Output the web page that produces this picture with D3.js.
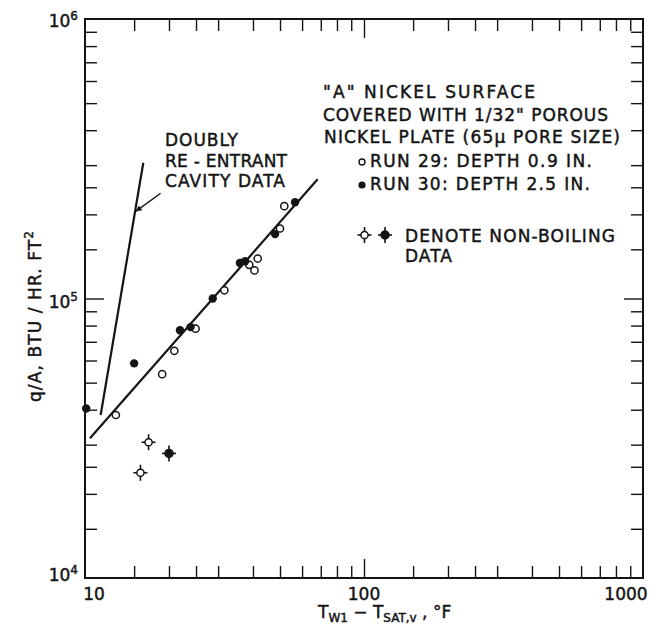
<!DOCTYPE html>
<html><head><meta charset="utf-8">
<script src="https://cdn.jsdelivr.net/npm/d3@7"></script>
<style>
body{margin:0;background:#fff}
svg{display:block}
text{font-family:"DejaVu Sans",sans-serif;fill:#141414;stroke:#141414;stroke-width:0.45px}
</style>
</head><body>
<svg id="chart" width="656" height="630"></svg>
<script>
// ---- data ----
const xDomain = [10, 1000];
const yDomain = [1e4, 1e6];
const xMajorTicks = [10, 100, 1000];
const yMajorTicks = [1e4, 1e5, 1e6];
const xTickLabels = ["10", "100", "1000"];
const yTickExponents = ["4", "5", "6"];
const minorMultipliers = [1.5, 2, 2.5, 3, 4, 5, 6, 7, 8, 9];

// Run 29 (open circles), depth 0.9 in.
const run29X = [12.9, 18.9, 20.9, 24.9, 31.6, 38.8, 40.5, 41.6, 50.0, 51.8];
const run29Y = [38300, 53600, 65000, 78000, 107000, 132000, 126000, 139000, 178000, 214000];
// Run 30 (filled circles), depth 2.5 in.
const run30X = [10.1, 15.0, 21.9, 23.9, 28.7, 35.9, 37.5, 48.0, 56.6];
const run30Y = [40400, 58600, 77000, 79000, 100000, 134000, 136000, 170000, 221000];
// non-boiling data
const nonBoilOpenX = [16.9, 15.8];
const nonBoilOpenY = [30600, 23800];
const nonBoilFilledX = [20.0];
const nonBoilFilledY = [27900];
// correlation line through porous-plate data
const fitLineX = [10.42, 68.2];
const fitLineY = [31600, 267000];
// doubly re-entrant cavity data line
const cavityLineX = [11.38, 16.18];
const cavityLineY = [38300, 306000];
// arrow pointing to cavity line (tail, head)
const arrowX = [18.67, 15.2];
const arrowY = [238000, 205000];

const xTitleParts = [["T",""],["W1","sub"],[" \u2212 T",""],["SAT,v","sub"],[" , \u00B0F",""]];
const yTitleMain = "q/A, BTU / HR. FT";
const yTitleSup = "2";
const noteLines = ['"A" NICKEL SURFACE', 'COVERED WITH 1/32" POROUS', 'NICKEL PLATE (65\u03BC PORE SIZE)'];
const legendLabels = ["RUN 29: DEPTH 0.9 IN.", "RUN 30: DEPTH 2.5 IN."];
const nonBoilLabel = ["DENOTE NON-BOILING", "DATA"];
const cavityLabel = ["DOUBLY", "RE - ENTRANT", "CAVITY DATA"];

// ---- layout ----
const L = 85, R = 643, T = 19, B = 578;
const svg = d3.select("#chart");
const x = d3.scaleLog().domain(xDomain).range([L, R]);
const y = d3.scaleLog().domain(yDomain).range([B, T]);
const ink = "#141414";

function minorList(majors){
  const out = [];
  for (let i = 0; i < majors.length - 1; i++) minorMultipliers.forEach(m => out.push(majors[i]*m));
  return out;
}
const xTickVals = minorList(xMajorTicks).concat([xMajorTicks[1]]);
const yTickVals = minorList(yMajorTicks).concat([yMajorTicks[1]]);

function styleAxis(g, majorVal, longLen, attr){
  g.select(".domain").remove();
  g.selectAll("text").remove();
  g.selectAll(".tick line").attr("stroke", ink).attr("stroke-width", 1.4);
  g.selectAll(".tick").filter(d => Math.abs(d - majorVal) < 1e-6)
    .select("line").attr(attr, longLen);
}
svg.append("g").attr("transform", `translate(0,${B})`)
  .call(d3.axisBottom(x).tickValues(xTickVals).tickSizeInner(-12).tickSizeOuter(0))
  .call(g => styleAxis(g, 100, -19, "y2"));
svg.append("g").attr("transform", `translate(0,${T})`)
  .call(d3.axisTop(x).tickValues(xTickVals).tickSizeInner(-12).tickSizeOuter(0))
  .call(g => styleAxis(g, 100, 19, "y2"));
svg.append("g").attr("transform", `translate(${L},0)`)
  .call(d3.axisLeft(y).tickValues(yTickVals).tickSizeInner(-12).tickSizeOuter(0))
  .call(g => styleAxis(g, 1e5, 19, "x2"));
svg.append("g").attr("transform", `translate(${R},0)`)
  .call(d3.axisRight(y).tickValues(yTickVals).tickSizeInner(-12).tickSizeOuter(0))
  .call(g => styleAxis(g, 1e5, -19, "x2"));

// frame
svg.append("rect").attr("x", L).attr("y", T).attr("width", R - L).attr("height", B - T)
  .attr("fill", "none").attr("stroke", ink).attr("stroke-width", 2);

// x tick labels
const xLabelShift = [9, 0, -17];
svg.selectAll(".xlab").data(xMajorTicks).join("text")
  .attr("x", (d,i) => x(d) + xLabelShift[i]).attr("y", 600)
  .attr("text-anchor", "middle").attr("font-size", 17).text((d,i) => xTickLabels[i]);

// y tick labels (10 with superscript)
const yLabelDy = [3, 9, 8];
yMajorTicks.forEach((v,i) => {
  const t = svg.append("text").attr("x", 78).attr("y", y(v) + yLabelDy[i])
    .attr("text-anchor", "end").attr("font-size", 17);
  t.append("tspan").text("10");
  t.append("tspan").attr("font-size", 12).attr("dy", -7).text(yTickExponents[i]);
});

// axis titles
const xt = svg.append("text").attr("x", 318).attr("y", 618).attr("font-size", 17);
let prevSub = false;
xTitleParts.forEach(([s, kind]) => {
  const sp = xt.append("tspan").text(s);
  if (kind === "sub") { sp.attr("font-size", 12).attr("dy", 4); prevSub = true; }
  else { if (prevSub) sp.attr("dy", -4); prevSub = false; }
});
const yt = svg.append("text").attr("transform", "translate(41,316) rotate(-90)")
  .attr("text-anchor", "middle").attr("font-size", 17).attr("letter-spacing", 1.1);
yt.append("tspan").text(yTitleMain);
yt.append("tspan").attr("font-size", 12).attr("dy", -8).text(yTitleSup);

// lines
const line = d3.line().x(d => x(d[0])).y(d => y(d[1]));
svg.append("path").datum(fitLineX.map((v,i) => [v, fitLineY[i]]))
  .attr("d", line).attr("fill", "none").attr("stroke", ink).attr("stroke-width", 2.2);
svg.append("path").datum(cavityLineX.map((v,i) => [v, cavityLineY[i]]))
  .attr("d", line).attr("fill", "none").attr("stroke", ink).attr("stroke-width", 2.2);

// arrow
svg.append("defs").append("marker").attr("id", "ah").attr("viewBox", "0 0 10 10")
  .attr("refX", 10).attr("refY", 5).attr("markerWidth", 8).attr("markerHeight", 6)
  .attr("markerUnits", "userSpaceOnUse").attr("orient", "auto")
  .append("path").attr("d", "M0,0 L10,5 L0,10 Z").attr("fill", ink);
svg.append("line").attr("x1", x(arrowX[0])).attr("y1", y(arrowY[0]))
  .attr("x2", x(arrowX[1])).attr("y2", y(arrowY[1]))
  .attr("stroke", ink).attr("stroke-width", 1.4).attr("marker-end", "url(#ah)");

// markers
function nonBoil(g, cx, cy, filled){
  g.append("line").attr("x1", cx).attr("x2", cx).attr("y1", cy - 8).attr("y2", cy + 8)
    .attr("stroke", ink).attr("stroke-width", 1.6);
  g.append("line").attr("x1", cx - 7).attr("x2", cx + 7).attr("y1", cy).attr("y2", cy)
    .attr("stroke", ink).attr("stroke-width", 1.6);
  g.append("circle").attr("cx", cx).attr("cy", cy).attr("r", filled ? 4 : 3.6)
    .attr("fill", filled ? ink : "#fff").attr("stroke", ink).attr("stroke-width", 1.5);
}
const pts = svg.append("g");
pts.selectAll(".o").data(run29X.map((v,i) => [v, run29Y[i]])).join("circle")
  .attr("cx", d => x(d[0])).attr("cy", d => y(d[1])).attr("r", 3.6)
  .attr("fill", "#fff").attr("stroke", ink).attr("stroke-width", 1.5);
pts.selectAll(".f").data(run30X.map((v,i) => [v, run30Y[i]])).join("circle")
  .attr("cx", d => x(d[0])).attr("cy", d => y(d[1])).attr("r", 4.2).attr("fill", ink);
nonBoilOpenX.forEach((v,i) => nonBoil(pts, x(v), y(nonBoilOpenY[i]), false));
nonBoilFilledX.forEach((v,i) => nonBoil(pts, x(v), y(nonBoilFilledY[i]), true));

// annotation text
function label(str, xx, yy, w){
  svg.append("text").attr("x", xx).attr("y", yy).attr("font-size", 17)
    .attr("textLength", w).attr("lengthAdjust", "spacing").text(str);
}
label(cavityLabel[0], 165, 146, 73);
label(cavityLabel[1], 165, 167, 122);
label(cavityLabel[2], 165, 187, 120);
label(noteLines[0], 323, 98, 212);
label(noteLines[1], 323, 121, 285);
label(noteLines[2], 324, 142.5, 296);
label(legendLabels[0], 370, 167, 222);
label(legendLabels[1], 370, 190, 220);
label(nonBoilLabel[0], 405, 242, 210);
label(nonBoilLabel[1], 405, 262, 47);
// legend symbols
svg.append("circle").attr("cx", 362).attr("cy", 162).attr("r", 3)
  .attr("fill", "#fff").attr("stroke", ink).attr("stroke-width", 1.4);
svg.append("circle").attr("cx", 362).attr("cy", 185).attr("r", 3.6).attr("fill", ink);
nonBoil(svg, 364.5, 235, false);
nonBoil(svg, 385, 235, true);
</script>
</body></html>
